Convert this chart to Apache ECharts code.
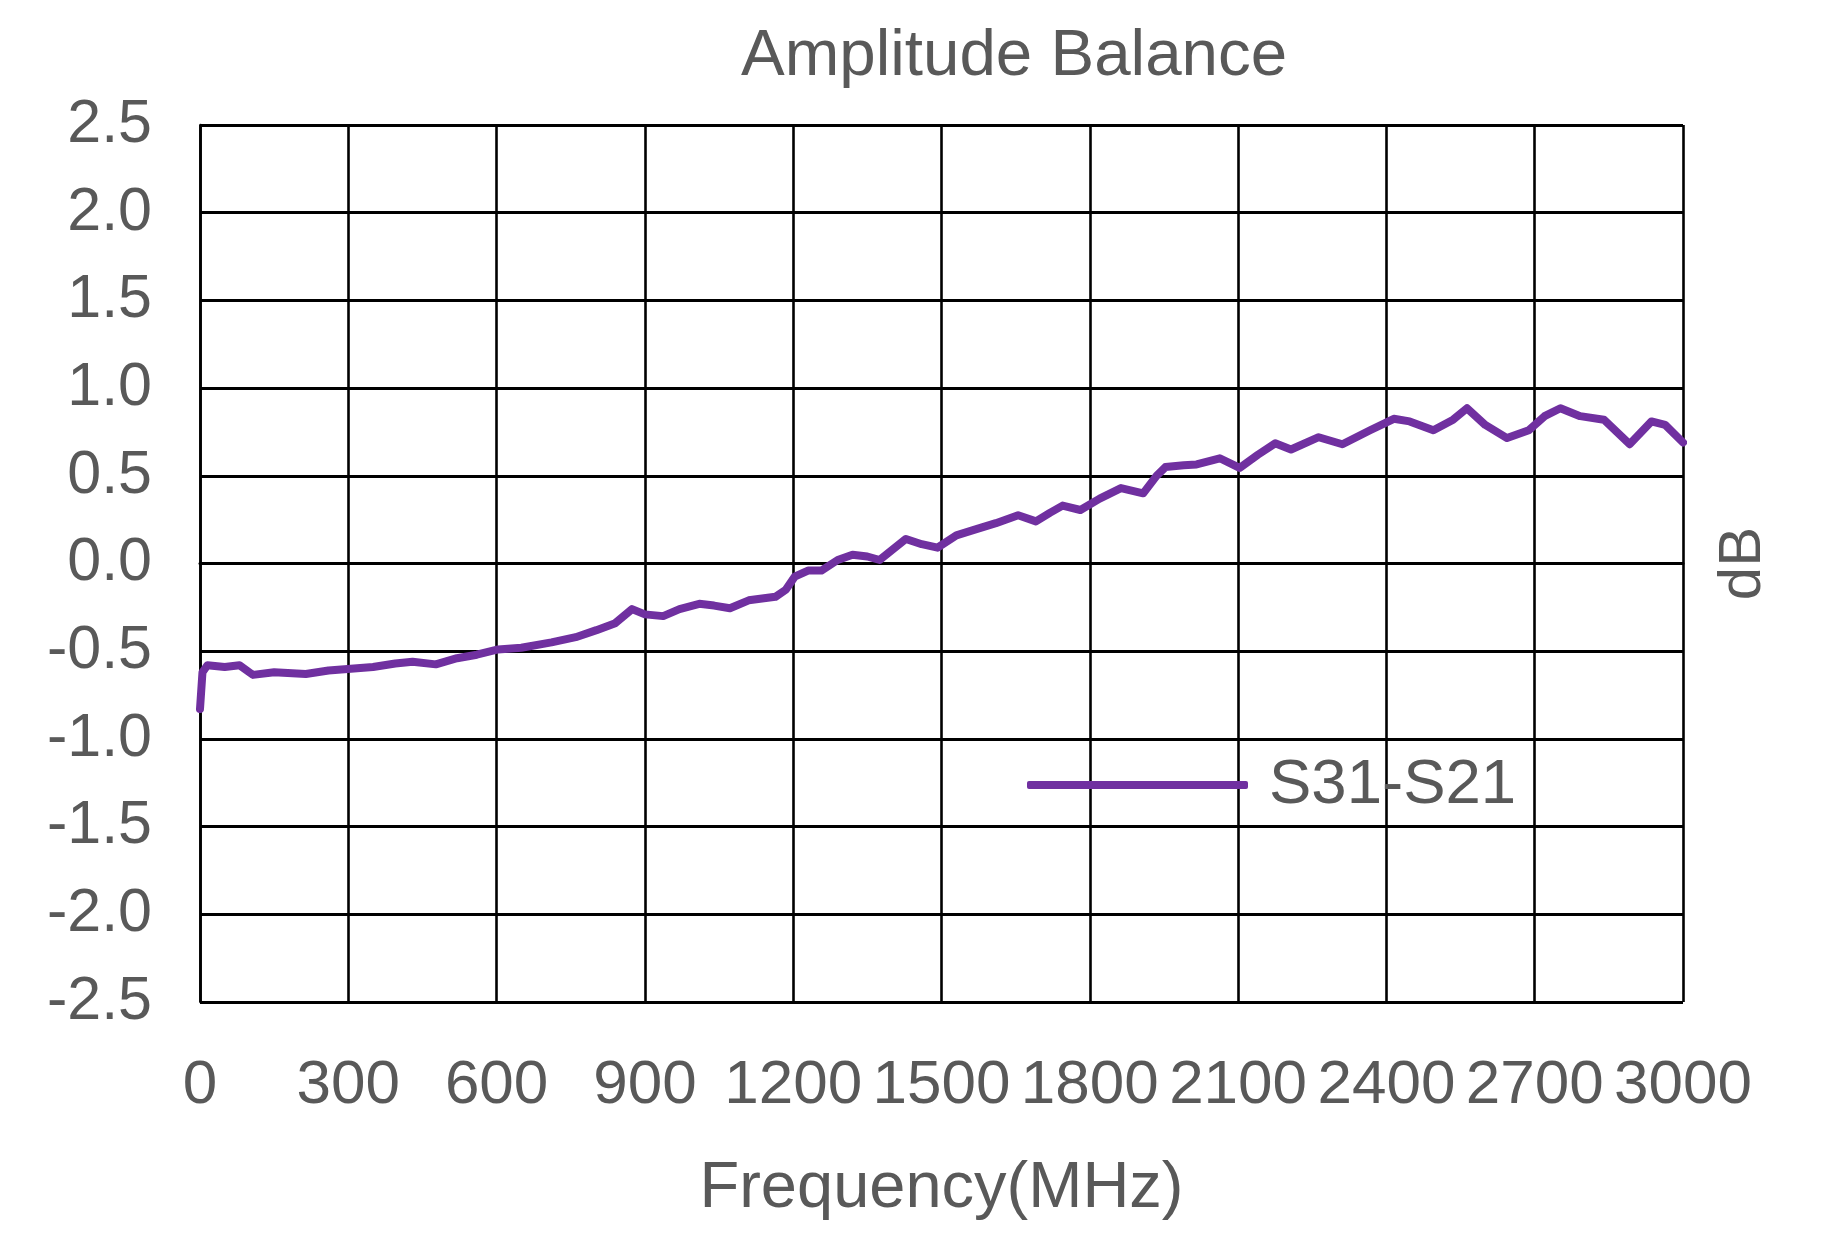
<!DOCTYPE html>
<html>
<head>
<meta charset="utf-8">
<script src="https://cdn.jsdelivr.net/npm/echarts@6/dist/echarts.min.js"></script>
<style>
html,body{margin:0;padding:0;background:#fff;}
#c{width:1821px;height:1236px;}
</style>
</head>
<body>
<div id="c"></div>
<script>
const chartTitle = 'Amplitude Balance';
const xName = 'Frequency(MHz)';
const yName = 'dB';
const seriesName = 'S31-S21';
const freq = [0,5,15,50,80,107,150,214,260,305,350,395,430,477,520,560,603,650,711,760,802,840,874,900,937,970,1010,1040,1072,1110,1164,1185,1203,1230,1257,1290,1320,1350,1375,1428,1460,1492,1530,1564,1610,1655,1691,1720,1745,1781,1820,1863,1908,1935,1953,1990,2016,2063,2103,2140,2175,2207,2263,2311,2367,2415,2447,2495,2535,2563,2600,2644,2688,2720,2752,2792,2840,2892,2936,2964,3000];
const balance = [-0.83,-0.62,-0.58,-0.59,-0.58,-0.635,-0.62,-0.63,-0.61,-0.6,-0.59,-0.57,-0.56,-0.575,-0.54,-0.52,-0.49,-0.48,-0.45,-0.42,-0.38,-0.34,-0.26,-0.29,-0.3,-0.26,-0.23,-0.24,-0.255,-0.21,-0.19,-0.15,-0.075,-0.04,-0.04,0.02,0.05,0.04,0.02,0.14,0.11,0.09,0.16,0.19,0.23,0.275,0.24,0.29,0.33,0.305,0.37,0.43,0.40,0.5,0.55,0.56,0.565,0.6,0.545,0.62,0.685,0.65,0.72,0.68,0.76,0.825,0.81,0.76,0.82,0.885,0.79,0.715,0.76,0.84,0.885,0.84,0.82,0.68,0.81,0.79,0.69];

const data = freq.map((f, i) => [f, balance[i]]);
const txt = '#595959';
const purple = '#7030A0';
const font = '"Liberation Sans", Arial, sans-serif';
const chart = echarts.init(document.getElementById('c'), null, {renderer: 'canvas'});
chart.setOption({
  animation: false,
  backgroundColor: '#fff',
  title: {
    text: chartTitle,
    left: 736, top: 19,
    textStyle: {color: txt, fontSize: 65.5, fontWeight: 'normal', fontFamily: font}
  },
  legend: {
    left: 1022, top: 784 - 36,
    icon: 'roundRect',
    itemWidth: 221, itemHeight: 8,
    data: [seriesName],
    itemStyle: {color: purple},
    textStyle: {color: txt, fontSize: 63.5, fontFamily: font, padding: [0, 0, 0, 16]}
  },
  grid: {left: 200, right: 138, top: 125, bottom: 234, containLabel: false},
  xAxis: {
    type: 'value', min: 0, max: 3000, interval: 300,
    name: xName, nameLocation: 'middle', nameGap: 155,
    nameTextStyle: {color: txt, fontSize: 65, fontFamily: font},
    axisLine: {show: true, lineStyle: {color: '#000', width: 3}},
    axisTick: {show: false},
    axisLabel: {color: txt, fontSize: 62, fontFamily: font, margin: 53,
      showMinLabel: true, showMaxLabel: true, hideOverlap: false,
      formatter: v => String(v)},
    splitLine: {show: true, lineStyle: {color: '#000', width: 2.6}}
  },
  yAxis: [{
    type: 'value', min: -2.5, max: 2.5, interval: 0.5,
    axisLine: {show: true, lineStyle: {color: '#000', width: 2.6}},
    axisTick: {show: false},
    axisLabel: {color: txt, fontSize: 61, fontFamily: font, margin: 48, formatter: v => v.toFixed(1)},
    splitLine: {show: true, lineStyle: {color: '#000', width: 3}}
  }, {
    type: 'value', min: -2.5, max: 2.5, interval: 0.5, position: 'right',
    name: yName, nameLocation: 'middle', nameGap: 30, nameRotate: 90,
    nameTextStyle: {color: txt, fontSize: 60, fontFamily: font},
    axisLine: {show: false}, axisTick: {show: false}, axisLabel: {show: false},
    splitLine: {show: false}
  }],
  series: [{
    name: seriesName, type: 'line', data: data,
    showSymbol: false, symbol: 'none',
    lineStyle: {color: purple, width: 8, cap: 'round', join: 'round'},
    itemStyle: {color: purple}
  }]
});
</script>
</body>
</html>
